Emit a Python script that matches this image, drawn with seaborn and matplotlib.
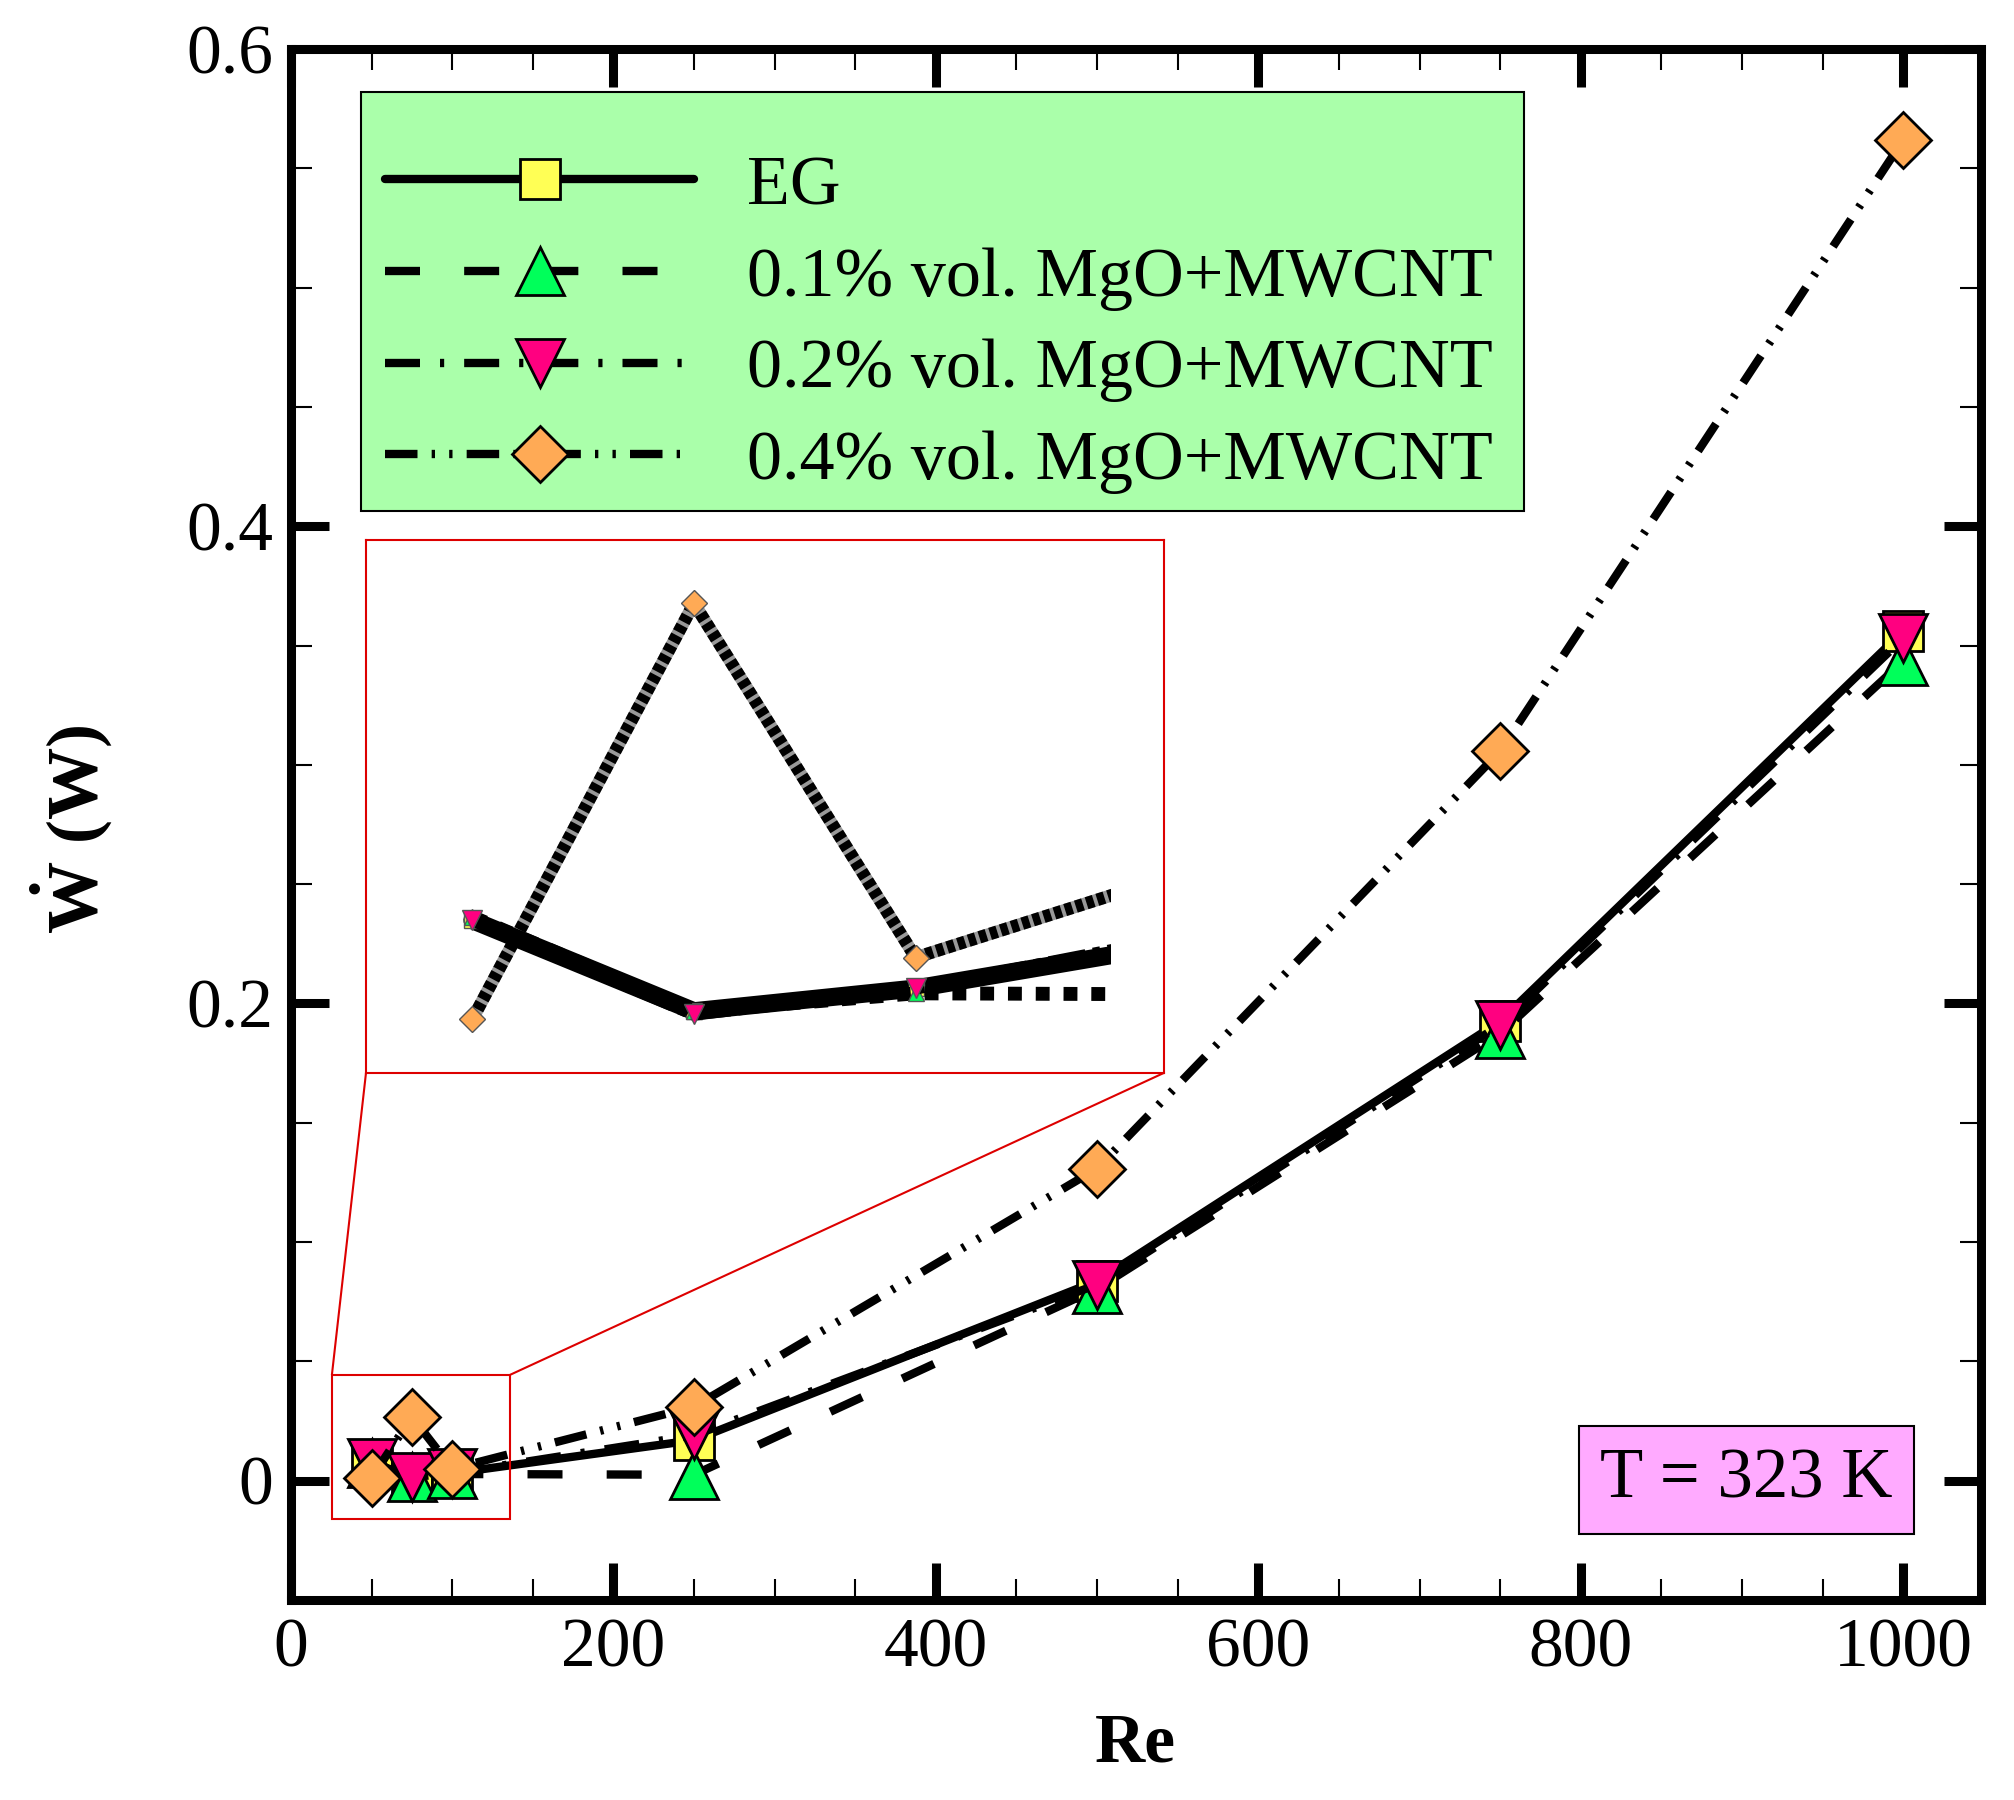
#!/usr/bin/env python3
"""Pumping power vs Reynolds number for EG and MgO+MWCNT hybrid nanofluids."""

import matplotlib
matplotlib.use("Agg")
import matplotlib.pyplot as plt
import pandas as pd
import seaborn as sns
from matplotlib.patches import ConnectionPatch, Rectangle
from matplotlib.ticker import FuncFormatter, MultipleLocator
from matplotlib.transforms import Bbox, TransformedBbox

# Data
re_values = [50, 75, 100, 250, 500, 750, 1000]
w_eg = [0.0073, 0.0017, 0.0031, 0.017, 0.0837, 0.1925, 0.356]
w_01 = [0.0075, 0.0017, 0.0028, 0.0025, 0.0805, 0.1874, 0.3434]
w_02 = [0.0073, 0.0015, 0.0031, 0.019, 0.0822, 0.191, 0.353]
w_04 = [0.0012, 0.0268, 0.005, 0.031, 0.1308, 0.3057, 0.5618]
labels = ["EG", "0.1% vol. MgO+MWCNT", "0.2% vol. MgO+MWCNT", "0.4% vol. MgO+MWCNT"]
x_ticks = [0, 200, 400, 600, 800, 1000]
y_ticks = [0, 0.2, 0.4, 0.6]

df = pd.DataFrame({"Re": re_values, labels[0]: w_eg, labels[1]: w_01,
                   labels[2]: w_02, labels[3]: w_04})

styles = {
    labels[0]: dict(marker="s", mfc="#FFFF55", ms=29, ls="-"),
    labels[1]: dict(marker="^", mfc="#00FF5A", ms=35, ls=(0, (4.2, 5.3))),
    labels[2]: dict(marker="v", mfc="#FF0080", ms=34, ls=(0, (4.2, 2.4, 0.5, 2.4))),
    labels[3]: dict(marker="D", mfc="#FFAA55", ms=29,
                    ls=(0, (3.9, 1.7, 0.4, 1.7, 0.4, 1.7))),
}

sns.set_theme(style="ticks")
plt.rcParams["font.family"] = ["Liberation Serif", "DejaVu Serif"]
plt.rcParams["mathtext.fontset"] = "custom"
plt.rcParams["mathtext.rm"] = "Liberation Serif"
plt.rcParams["mathtext.bf"] = "Liberation Serif:bold"
for key in ["text.color", "axes.labelcolor", "xtick.color", "ytick.color",
            "axes.edgecolor"]:
    plt.rcParams[key] = "black"

fig = plt.figure(figsize=(20.15, 18), dpi=100)
ax = fig.add_axes([0.1444, 0.1111, 0.8385, 0.8617])

for name in labels:
    st = styles[name]
    sns.lineplot(data=df, x="Re", y=name, ax=ax, color="black", linewidth=6,
                 linestyle=st["ls"], marker=st["marker"], markersize=st["ms"],
                 markerfacecolor=st["mfc"], markeredgecolor="black",
                 markeredgewidth=2, label=name, errorbar=None)

ax.set_xlim(0, 1048)
ax.set_ylim(-0.05, 0.6)
ax.set_xticks(x_ticks)
ax.set_yticks(y_ticks)
ax.xaxis.set_minor_locator(MultipleLocator(50))
ax.yaxis.set_minor_locator(MultipleLocator(0.05))
ax.yaxis.set_major_formatter(FuncFormatter(lambda v, p: f"{v:g}"))
ax.tick_params(which="major", direction="in", length=27, width=6.5,
               top=True, right=True, labelsize=50, pad=13)
ax.tick_params(which="minor", direction="in", length=15, width=1.5,
               top=True, right=True)
for sp in ax.spines.values():
    sp.set_linewidth(6.5)

ax.set_xlabel("Re", fontsize=50, fontweight="bold")
ax.xaxis.label.set_verticalalignment("center")
ax.xaxis.set_label_coords(0.5, -0.093)
ax.set_ylabel(r"$\mathbf{\dot{W}}$ (W)", fontsize=52, fontweight="bold")
ax.yaxis.label.set_verticalalignment("center")
ax.yaxis.set_label_coords(-0.130, 0.497)

# legend: green box drawn as a patch, entries placed on top of it
ax.add_patch(Rectangle((0.0414, 0.7021), 0.6882, 0.2702, transform=ax.transAxes,
                       facecolor="#AAFFAA", edgecolor="black", linewidth=1.5,
                       zorder=4))
leg = ax.legend(loc="upper left", bbox_to_anchor=(0.0556, 0.9317),
                borderaxespad=0, borderpad=0, fontsize=50.6, handlelength=4.4,
                handletextpad=0.75, labelspacing=0.39, frameon=False,
                numpoints=1)
leg.set_zorder(6)

ax.text(0.8615, 0.0774, "T = 323 K", transform=ax.transAxes, fontsize=51,
        ha="center", va="center",
        bbox=dict(boxstyle="square,pad=0.3", facecolor="#FFAAFF",
                  edgecolor="black", linewidth=1.5))

# zoom rectangle and inset
rect_x0, rect_x1, rect_y0, rect_y1 = 25.4, 136, -0.0159, 0.0444
ax.add_patch(Rectangle((rect_x0, rect_y0), rect_x1 - rect_x0, rect_y1 - rect_y0,
                       fill=False, edgecolor="#DD0000", linewidth=1.5, zorder=5))

axins = ax.inset_axes([0.0444, 0.3398, 0.4722, 0.3437])
inset_styles = {
    labels[0]: dict(lw=13, ls="-", ms=11),
    labels[1]: dict(lw=10, ls=(0, (1.0, 1.0)), ms=12),
    labels[2]: dict(lw=9, ls=(0, (3, 0.6, 0.6, 0.6)), ms=14),
    labels[3]: dict(lw=9, ls=(0, (0.6, 0.3)), ms=13),
}
sns.lineplot(data=df, x="Re", y=labels[3], ax=axins, color="#999999",
             linewidth=9, errorbar=None, legend=False)
for name in labels:
    st = styles[name]
    ist = inset_styles[name]
    sns.lineplot(data=df, x="Re", y=name, ax=axins, color="black",
                 linewidth=ist["lw"], linestyle=ist["ls"], marker=st["marker"],
                 markersize=ist["ms"], markerfacecolor=st["mfc"],
                 markeredgecolor="#555555", markeredgewidth=1,
                 errorbar=None, legend=False)
axins.set_xlim(38, 128)
axins.set_ylim(-0.0021, 0.0307)
# the zoomed picture stops its curves a little before the right border
clip = TransformedBbox(Bbox([[38, -0.0021], [122, 0.0307]]), axins.transData)
for line in axins.get_lines():
    line.set_clip_box(clip)
axins.set_xticks([])
axins.set_yticks([])
axins.set_xlabel("")
axins.set_ylabel("")
axins.set_facecolor("white")
for sp in axins.spines.values():
    sp.set_edgecolor("#DD0000")
    sp.set_linewidth(1.5)

for xa, xb in [(rect_x0, 0), (rect_x1, 1)]:
    con = ConnectionPatch(xyA=(xa, rect_y1), coordsA=ax.transData,
                          xyB=(xb, 0), coordsB=axins.transAxes,
                          color="#DD0000", linewidth=1.5)
    ax.add_artist(con)

fig.savefig("out.png", dpi=100)
